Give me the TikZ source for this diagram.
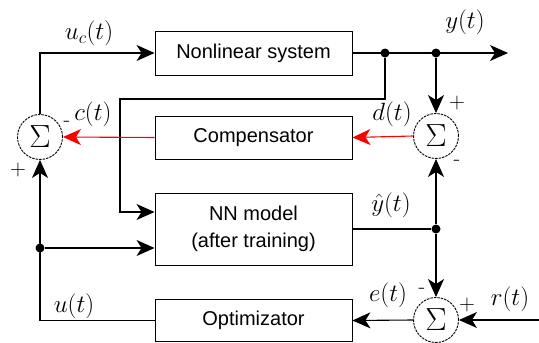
\RequirePackage{fix-cm}
\documentclass[tikz,border=0pt]{standalone}
\usepackage{amsmath,amssymb}
\usepackage{fontspec}
\newfontfamily\boxfont{Liberation Sans}
\usepackage{tikz}
\usetikzlibrary{positioning,arrows.meta,calc}
\usepackage{xcolor}

\begin{document}
\begin{tikzpicture}[
  x=1pt, y=1pt,
  fl/.style   = {-{Stealth[length=18pt, width=16pt, inset=5pt]}, line width=1.1pt},
  ln/.style   = {line width=1.1pt},
  rfl/.style  = {fl, red},
  box/.style  = {draw, line width=0.9pt, align=center, minimum width=197pt,
                 font=\boxfont\fontsize{20}{27}\selectfont},
  sum/.style  = {draw, circle, minimum size=45pt, inner sep=0pt, line width=0.9pt,
                 dash pattern=on 2.5pt off 1pt, font=\fontsize{32}{36}\selectfont},
  dot/.style  = {circle, fill, inner sep=0pt, minimum size=9pt},
  lbl/.style  = {inner sep=0pt, font=\fontsize{25}{28}\selectfont},
  sgn/.style  = {inner sep=0pt, font=\fontsize{22}{24}\selectfont},
]
\useasboundingbox (0,0) rectangle (539,-343);

% ================= blocks ==============================================
\node[box, minimum height=44pt] (sys)  at (253.5,-53)    {Nonlinear system};
\node[box, minimum height=43pt] (comp) at (253.5,-137.5) {Compensator};
\node[box, minimum height=72pt] (nn)   at (253.5,-229)   {NN model\\(after training)};
\node[box, minimum height=42pt] (opt)  at (253.5,-320.5) {Optimizator};

\node[sum] (sumL) at (40,-137)  {$\Sigma$};
\node[sum] (sumR) at (436,-136) {$\Sigma$};
\node[sum] (sumB) at (436,-320) {$\Sigma$};

% ================= branch points =======================================
\node[dot] (d1) at (385,-53)  {};
\node[dot] (d2) at (436,-53)  {};
\node[dot] (d3) at (40,-248)  {};
\node[dot] (d4) at (436,-229) {};
\coordinate (yout) at (508,-53);
\coordinate (rin)  at (539,-320);
\coordinate (k1)   at (120,-99);

% ================= edges ===============================================
\draw[fl] (sys.east) -- (yout);
\draw[fl] (d1) |- (k1) |- ([yshift=17]nn.west);
\draw[fl] (d2) -- (sumR.north);
\draw[rfl] (sumR.west) -- (comp.east);
\draw[rfl] (comp.west) -- (sumL.east);
\draw[fl] (sumL.north) |- (sys.west);
\draw[fl] (opt.west) -| (sumL.south);
\draw[fl] (d3) -- (d3 -| nn.west);
\draw[ln] (nn.east) -- (d4);
\draw[fl] (d4) -- (sumR.south);
\draw[fl] (d4) -- (sumB.north);
\draw[fl] (sumB.west) -- (opt.east);
\draw[fl] (rin) -- (sumB.east);

% ================= labels ==============================================
\node[lbl] at (89,-33)   {$u_c(t)$};
\node[lbl] at (93,-114)  {$c(t)$};
\node[lbl] at (465,-22)  {$y(t)$};
\node[lbl] at (392,-114) {$d(t)$};
\node[lbl] at (391,-205) {$\hat{y}(t)$};
\node[lbl] at (74,-306)  {$u(t)$};
\node[lbl] at (388,-295) {$e(t)$};
\node[lbl] at (510,-299) {$r(t)$};

\node[sgn] at (67,-124)  {-};
\node[sgn] at (18,-170)  {$+$};
\node[sgn] at (457,-103) {$+$};
\node[sgn] at (457,-163) {-};
\node[sgn] at (422,-291) {-};
\node[sgn] at (467,-305) {$+$};

\end{tikzpicture}
\end{document}
